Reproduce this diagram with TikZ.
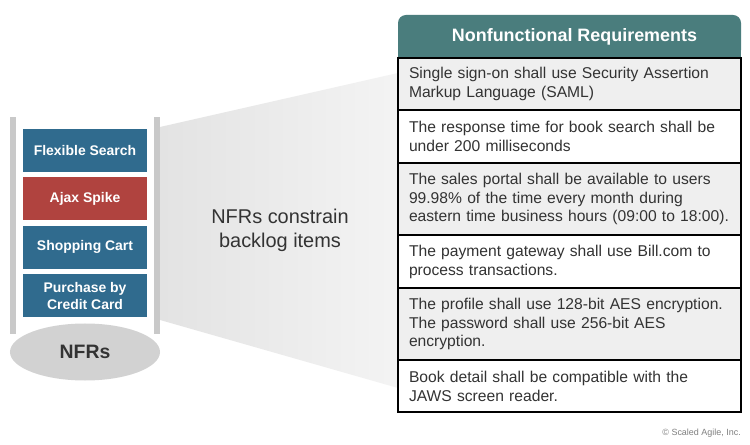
\documentclass[tikz,border=0pt]{standalone}
\usepackage{fontspec}
\setmainfont{Liberation Sans}
\usepackage{tikz}
\usepackage{xcolor}
\usetikzlibrary{positioning,shapes.geometric}
\definecolor{story-blue}{HTML}{306B8E}
\definecolor{spike-red}{HTML}{B0433F}
\definecolor{nfr-teal}{HTML}{4A7D7D}
\definecolor{stand-gray}{HTML}{C9C9C9}
\definecolor{base-gray}{HTML}{D2D2D2}
\definecolor{row-gray}{HTML}{EFEFEF}
\definecolor{ink}{HTML}{333333}
\hyphenpenalty=10000
\tikzset{
    backlog-item/.style = {fill=story-blue, text=white, font=\fontsize{14}{17}\selectfont\bfseries, minimum width=124bp, minimum height=43bp, align=center, inner sep=2pt},
    spike-item/.style = {backlog-item, fill=spike-red},
    stand-base/.style = {ellipse, fill=base-gray, text=ink, font=\fontsize{19.5}{22}\selectfont\bfseries, minimum width=150bp, minimum height=57bp, inner sep=0pt},
    req-row/.style = {draw=black, line width=2bp, fill=white, outer sep=0pt, minimum width=343bp, text width=321bp, inner xsep=11bp, inner ysep=2bp, align=left, font=\fontsize{15.7}{19}\selectfont, text=ink},
    req-title/.style = {fill=nfr-teal, text=white, font=\fontsize{18}{21}\selectfont\bfseries, rounded corners=8bp, minimum width=343bp, minimum height=43bp, outer sep=0pt},
}

\begin{document}
\begin{tikzpicture}[x=1bp, y=-1bp]
\path[use as bounding box, fill=white] (0,0) rectangle (750,445);
% funnel between the backlog and the requirements
\shade[left color=gray!22, right color=gray!9] (160,127) -- (398,73) -- (398,388) -- (160,320) -- cycle;
\node[text=ink, font=\fontsize{20}{24}\selectfont, align=center] (constrain) at (280,230) {NFRs constrain\\backlog items};
% stand
\fill[stand-gray] (10,117) rectangle (16,334);
\fill[stand-gray] (154,117) rectangle (160,334);
\node[stand-base] (nfrs) at (85,352) {NFRs};
\node[backlog-item] (search) at (85,150.5) {Flexible Search};
\node[spike-item, below=5bp of search] (spike) {Ajax Spike};
\node[backlog-item, below=5bp of spike] (cart) {Shopping Cart};
\node[backlog-item, below=5bp of cart] (purchase) {Purchase by\\Credit Card};
% requirements table
\fill[nfr-teal] (398,36) rectangle (741,58);
\node[req-title] (title) at (569.5,36.5) {\hspace{10bp}Nonfunctional Requirements};
\node[req-row, fill=row-gray, minimum height=52bp, anchor=north west] (sso) at (398,58) {Single sign-on shall use Security Assertion\\Markup Language (SAML)};
\node[req-row, minimum height=53bp, below=0pt of sso] (response) {The response time for book search shall be\\under 200 milliseconds};
\node[req-row, fill=row-gray, minimum height=72bp, below=0pt of response] (portal) {The sales portal shall be available to users\\99.98\% of the time every month during\\eastern time business hours (09:00 to 18:00).};
\node[req-row, minimum height=53bp, below=0pt of portal] (payment) {The payment gateway shall use Bill.com to\\process transactions.};
\node[req-row, fill=row-gray, minimum height=72bp, below=0pt of payment] (aes) {The profile shall use 128-bit AES encryption.\\The password shall use 256-bit AES\\encryption.};
\node[req-row, minimum height=52bp, below=0pt of aes] (jaws) {Book detail shall be compatible with the\\JAWS screen reader.};
\node[text=gray, font=\fontsize{9}{11}\selectfont, anchor=east, inner sep=0pt] (copyright) at (741,433) {© Scaled Agile, Inc.};
\end{tikzpicture}
\end{document}
